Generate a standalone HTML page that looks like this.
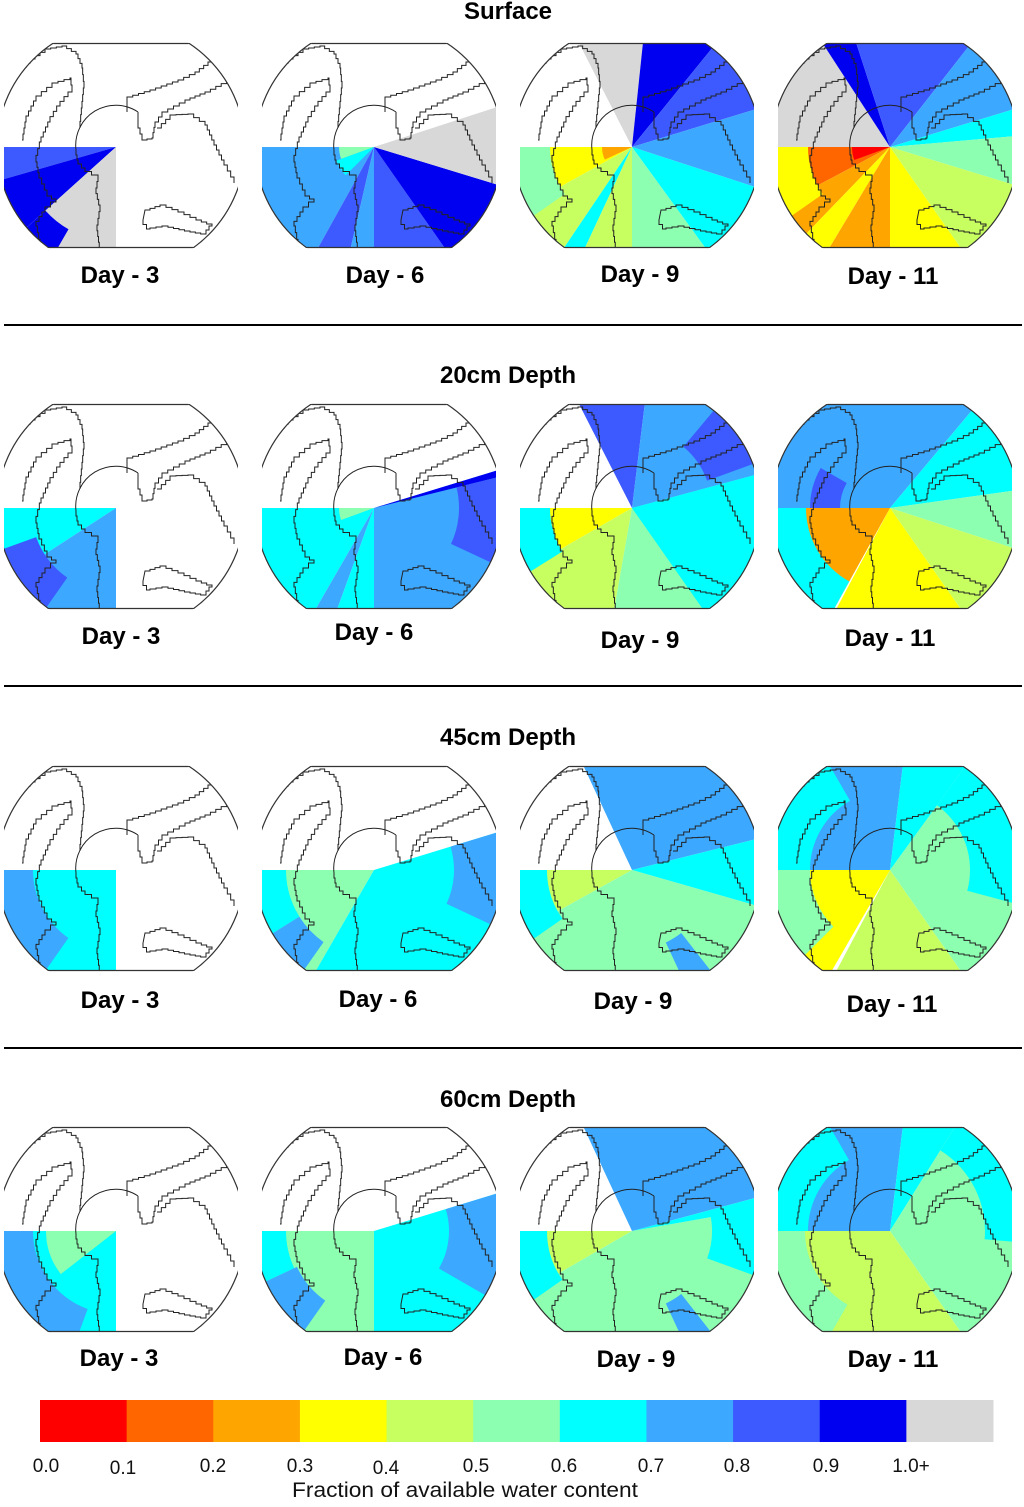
<!DOCTYPE html>
<html><head><meta charset="utf-8"><style>
html,body{margin:0;padding:0;background:#fff;}
svg{display:block;}
text{font-family:"Liberation Sans",sans-serif;}
</style></head><body>
<svg id="fig" width="1024" height="1507" viewBox="0 0 1024 1507" xmlns="http://www.w3.org/2000/svg"></svg>
<script>
// ---- data ----
const colorBins = ["0.0","0.1","0.2","0.3","0.4","0.5","0.6","0.7","0.8","0.9","1.0+"];
const binColors = ["#ff0000","#ff6600","#ffa500","#ffff00","#c8ff60","#8cffb0","#00ffff","#3ca8ff","#3c5aff","#0000f0","#d8d8d8"];
const depths = ["Surface","20cm Depth","45cm Depth","60cm Depth"];
const days = ["Day - 3","Day - 6","Day - 9","Day - 11"];
// sectors: [startDeg, endDeg, colorBinIndex, rInner?, rOuter?]  (0deg = east, counter-clockwise)
const surfaceSectors = [
 [[180,196,8],[196,222,9],[222,270,10],[222,240,9,95,200]],
 [[180,241,7],[241,257,8],[257,270,7],[270,305,8],[305,343,9],[343,378,10],[180,200,5,0,35],[200,225,6,0,40]],
 [[84,117,10],[51,84,9],[17,51,8],[-18,17,7],[-54,-18,6],[-90,-54,5],[180,209,3],[209,236,4],[236,245,6],[245,270,4],[180,205,2,0,30],[180,215,5,82,200]],
 [[123,180,10],[108,123,9],[52,108,8],[17,52,7],[5,17,6],[-17,5,5],[-55,-17,4],[-90,-55,3],[180,208,1],[208,226,2],[226,239,3],[239,270,2],[180,200,0,0,38],[180,215,3,82,200]]
];
const depth20Sectors = [
 [[180,213,6],[213,270,7],[200,235,8,85,200]],
 [[180,240,6],[240,250,7],[250,270,6],[270,377,7],[14,17,9],[-25,14,8,85,200],[180,200,5,0,35]],
 [[117,180,-1],[83,117,8],[15,83,7],[-55,15,6],[-90,-55,5],[180,210,3],[210,260,4],[260,305,5],[305,375,6],[20,50,8,80,200],[180,212,6,82,200]],
 [[50,180,7],[8,50,6],[-18,8,5],[-55,-18,4],[-118,-55,3],[180,241,2],[180,241,6,84,200],[150,180,8,50,80]]
];
const depth45Sectors = [
 [[180,270,6],[180,235,7,83,200]],
 [[180,240,5],[240,270,6],[270,377,6],[-25,17,7,80,200],[180,212,6,88,200],[212,235,7,88,200]],
 [[14,115,7],[-16,14,6],[-90,-16,5],[180,209,4],[209,270,5],[180,215,6,85,200],[-65,-52,7,80,200]],
 [[83,180,7],[-55,54,5],[-15,54,6,80,200],[54,83,6],[-118,-55,4],[180,240,3],[180,225,5,80,200],[120,180,6,80,200]]
];
const depth60Sectors = [
 [[180,270,6],[180,218,5,0,70],[180,250,7,83,200]],
 [[180,270,5],[270,377,6],[-30,17,7,75,200],[180,205,6,88,200],[205,235,7,85,200]],
 [[15,115,7],[-90,10,5],[10,15,6],[-20,13,6,80,200],[180,210,4],[210,270,5],[180,215,6,85,200],[-65,-52,7,80,200]],
 [[83,180,7],[58,83,6],[-55,58,5],[-5,58,6,95,200],[180,305,4],[180,240,5,85,200],[120,180,6,82,200]]
];
const allSectors = [surfaceSectors, depth20Sectors, depth45Sectors, depth60Sectors];

// ---- layout ----
const NS="http://www.w3.org/2000/svg";
const svg=document.getElementById('fig');
const panelX=[4,262,520,778];
const rowCY=[147,508,870,1231];
const titleY=[19,383,745,1107];
const labelY=[[283,283,282,284],[644,640,648,646],[1008,1007,1009,1012],[1366,1365,1367,1367]];
const labelX=[[120,385,640,893],[121,374,640,890],[120,378,633,892],[119,383,636,893]];
const sepY=[325,686,1048];
function mk(tag,attrs,parent){const e=document.createElementNS(NS,tag);for(const k in attrs)e.setAttribute(k,attrs[k]);(parent||svg).appendChild(e);return e;}
function pt(cx,cy,r,a){const t=a*Math.PI/180;return [cx+r*Math.cos(t),cy-r*Math.sin(t)];}
function sectorPath(cx,cy,a0,a1,r0,r1){
  const large=(a1-a0)>180?1:0;
  const p1=pt(cx,cy,r1,a0),p2=pt(cx,cy,r1,a1);
  if(!r0){return `M${cx},${cy} L${p1[0]},${p1[1]} A${r1},${r1} 0 ${large} 0 ${p2[0]},${p2[1]} Z`;}
  const q1=pt(cx,cy,r0,a1),q2=pt(cx,cy,r0,a0);
  return `M${p1[0]},${p1[1]} A${r1},${r1} 0 ${large} 0 ${p2[0]},${p2[1]} L${q1[0]},${q1[1]} A${r0},${r0} 0 ${large} 1 ${q2[0]},${q2[1]} Z`;
}
// jagged outline helper (panel-1 coordinates, translated per panel)
function jag(pts,closed){
  let d=`M${pts[0][0]},${pts[0][1]}`;
  for(let i=1;i<pts.length;i++){
    const [x0,y0]=pts[i-1],[x1,y1]=pts[i];
    const n=Math.max(1,Math.round(Math.hypot(x1-x0,y1-y0)/6));
    for(let k=1;k<=n;k++){
      const xa=x0+(x1-x0)*k/n, ya=y0+(y1-y0)*(k-1)/n;
      const xb=x0+(x1-x0)*k/n, yb=y0+(y1-y0)*k/n;
      d+=` L${xa},${ya} L${xb},${yb}`;
    }
  }
  return d+(closed?' Z':'');
}
const outlines=[
  jag([[100,248],[97,225],[100,205],[96,188],[98,175],[85,168],[78,160],[76,150]])+" A40,40 0 0 1 138,112",
  jag([[138,112],[138,128],[142,140],[152,138],[155,122],[162,112],[185,100],[205,92],[232,78]]),
  jag([[127,112],[127,97],[150,90],[178,80],[195,72],[208,62],[213,50]]),
  jag([[157,128],[170,115],[188,114],[205,125],[214,145],[224,165],[234,183]]),
  jag([[145,210],[160,205],[178,212],[196,220],[212,226],[206,234],[190,231],[168,226],[150,229],[143,220]],true),
  jag([[4,95],[14,76],[30,59],[45,49],[62,46],[76,54],[82,68],[84,88],[82,108],[80,128]]),
  jag([[22,140],[26,116],[36,96],[52,83],[70,78],[72,92],[60,106],[50,122],[41,142],[36,162],[39,178],[47,196],[56,202],[45,212],[36,226],[40,246]])
];

// titles
depths.forEach((t,i)=>{
  const e=mk('text',{x:508,y:titleY[i],'text-anchor':'middle','font-size':'24','font-weight':'bold',fill:'#000'});
  e.textContent=t;
  
  
});
sepY.forEach((y,i)=>{
  const l=mk('line',{x1:4,x2:1022,y1:y,y2:y,stroke:'#000','stroke-width':2});
  
  
});

// panels
let cid=0;
allSectors.forEach((row,ri)=>{
  row.forEach((secs,pi)=>{
    const x0=panelX[pi], cy=rowCY[ri];
    const ccx=x0+117, R=124, top=cy-104, bot=cy+101;
    const g=mk('g',{});
    
    
    const id='clip'+(cid++);
    const defs=mk('defs',{},g);
    const cp=mk('clipPath',{id:id},defs);
    mk('rect',{x:x0,y:top,width:234,height:bot-top},cp);
    const cg=mk('g',{'clip-path':`url(#${id})`},g);
    const cg2=mk('g',{},cg);
    const id2='clipc'+cid;
    const cp2=mk('clipPath',{id:id2},defs);
    mk('circle',{cx:ccx,cy:cy,r:R},cp2);
    cg2.setAttribute('clip-path',`url(#${id2})`);
    const wx=x0+112;
    secs.forEach(s=>{
      if(s[2]<0) return;
      const p=mk('path',{d:sectorPath(wx,cy,s[0],s[1],s[3]||0,s[4]||200),fill:binColors[s[2]]},cg2);
      
      
    });
    const og=mk('g',{transform:`translate(${x0-4},${cy-147})`,fill:'none',stroke:'#222','stroke-width':1},cg2);
    outlines.forEach(d=>{
      const o=mk('path',{d:d},og);
      
      
    });
    mk('circle',{cx:ccx,cy:cy,r:R,fill:'none',stroke:'#333','stroke-width':1.2},cg);
    const dy1=top-cy, hw1=Math.sqrt(R*R-dy1*dy1), hw2=Math.sqrt(R*R-(bot-cy)*(bot-cy));
    mk('line',{x1:ccx-hw1,x2:ccx+hw1,y1:top+0.5,y2:top+0.5,stroke:'#333','stroke-width':1.2},g);
    mk('line',{x1:ccx-hw2,x2:ccx+hw2,y1:bot-0.5,y2:bot-0.5,stroke:'#333','stroke-width':1.2},g);
    const lbl=mk('text',{x:labelX[ri][pi],y:labelY[ri][pi],'text-anchor':'middle','font-size':'24','font-weight':'bold',fill:'#000'});
    lbl.textContent=days[pi];
    
    
  });
});

// colorbar
const cbX0=40, cbX1=993, cbY=1400, cbH=42, segW=(cbX1-cbX0)/binColors.length;
const labX=[46,123,213,300,386,476,564,651,737,826,911];
const labYoff=[0,2,0,0,2,0,0,0,0,0,0];
binColors.forEach((c,i)=>{
  const r=mk('rect',{x:cbX0+i*segW,y:cbY,width:segW+0.5,height:cbH,fill:c});
  
  
  const t=mk('text',{x:labX[i],y:1472+labYoff[i],'text-anchor':'middle','font-size':'19',fill:'#111'});
  t.textContent=colorBins[i];
  
  
});
const ct=mk('text',{x:292,y:1497,'font-size':'21',fill:'#111',textLength:'346',lengthAdjust:'spacingAndGlyphs'});
ct.textContent='Fraction of available water content';


</script>
</body></html>
